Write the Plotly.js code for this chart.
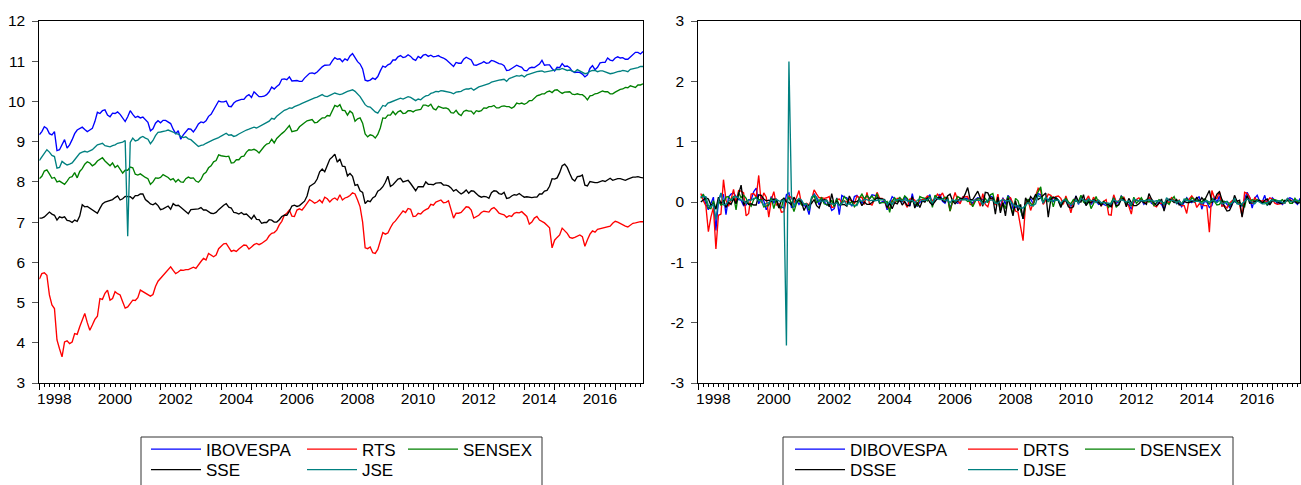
<!DOCTYPE html>
<html>
<head>
<meta charset="utf-8">
<script src="https://cdn.plot.ly/plotly-3.0.1.min.js"></script>
<style>html,body{margin:0;padding:0;background:#fff;}</style>
</head>
<body>
<div id="chart" style="width:1301px;height:485px;"></div>
<script>
// Monthly observations, 1998M01 .. 2017M12 (log index levels)
const startYear = 1998;
const IBOVESPA = [
 9.17, 9.25, 9.37, 9.33, 9.20, 9.17, 9.25, 8.78, 8.80, 8.93, 9.05, 8.84,
 8.92, 9.05, 9.20, 9.29, 9.33, 9.36, 9.30, 9.25, 9.29, 9.33, 9.50, 9.73,
 9.70, 9.77, 9.79, 9.66, 9.62, 9.71, 9.70, 9.74, 9.68, 9.60, 9.50, 9.62,
 9.77, 9.68, 9.60, 9.63, 9.59, 9.61, 9.55, 9.48, 9.27, 9.32, 9.46, 9.52,
 9.47, 9.53, 9.53, 9.48, 9.45, 9.31, 9.20, 9.27, 9.06, 9.17, 9.25, 9.32,
 9.31, 9.24, 9.33, 9.44, 9.49, 9.47, 9.52, 9.63, 9.68, 9.80, 9.91, 10.01,
 9.99, 9.99, 10.01, 9.88, 9.87, 9.96, 10.01, 10.04, 10.05, 10.05, 10.13, 10.17,
 10.10, 10.24, 10.19, 10.12, 10.12, 10.13, 10.17, 10.24, 10.36, 10.31, 10.37, 10.42,
 10.55, 10.56, 10.54, 10.61, 10.51, 10.51, 10.52, 10.50, 10.50, 10.58, 10.64, 10.70,
 10.71, 10.69, 10.73, 10.80, 10.86, 10.90, 10.90, 10.91, 11.01, 11.09, 11.05, 11.06,
 10.99, 11.06, 11.02, 11.13, 11.19, 11.08, 10.99, 10.93, 10.81, 10.53, 10.51, 10.53,
 10.58, 10.55, 10.62, 10.76, 10.88, 10.85, 10.91, 10.94, 11.03, 11.03, 11.11, 11.14,
 11.09, 11.11, 11.16, 11.12, 11.05, 11.02, 11.12, 11.08, 11.15, 11.17, 11.12, 11.15,
 11.11, 11.12, 11.14, 11.10, 11.08, 11.04, 10.98, 10.94, 10.87, 10.97, 10.95, 10.95,
 11.05, 11.10, 11.07, 11.03, 10.91, 10.90, 10.93, 10.95, 10.99, 10.95, 10.96, 11.02,
 11.00, 10.96, 10.94, 10.93, 10.89, 10.77, 10.78, 10.82, 10.87, 10.90, 10.87, 10.85,
 10.77, 10.76, 10.83, 10.85, 10.84, 10.88, 10.93, 11.02, 10.90, 10.91, 10.91, 10.82,
 10.76, 10.85, 10.84, 10.94, 10.87, 10.88, 10.84, 10.75, 10.72, 10.73, 10.72, 10.68,
 10.61, 10.66, 10.82, 10.89, 10.79, 10.85, 10.96, 10.97, 10.97, 11.08, 11.03, 11.01,
 11.08, 11.11, 11.08, 11.09, 11.05, 11.05, 11.10, 11.17, 11.22, 11.22, 11.18, 11.24
];
const RTS = [
 5.58, 5.72, 5.74, 5.68, 5.19, 4.94, 4.85, 4.07, 3.85, 3.65, 4.02, 4.05,
 3.98, 4.02, 4.23, 4.21, 4.40, 4.58, 4.73, 4.50, 4.31, 4.44, 4.58, 4.66,
 5.10, 5.08, 5.23, 5.31, 5.06, 5.10, 5.27, 5.22, 5.19, 5.02, 4.86, 4.89,
 4.99, 5.06, 5.05, 5.12, 5.31, 5.27, 5.23, 5.21, 5.16, 5.20, 5.40, 5.53,
 5.60, 5.67, 5.73, 5.80, 5.89, 5.80, 5.72, 5.76, 5.81, 5.80, 5.82, 5.82,
 5.86, 5.88, 5.85, 5.95, 6.02, 6.10, 6.06, 6.22, 6.19, 6.14, 6.18, 6.34,
 6.40, 6.46, 6.47, 6.38, 6.27, 6.30, 6.27, 6.33, 6.39, 6.43, 6.42, 6.33,
 6.38, 6.44, 6.47, 6.44, 6.47, 6.51, 6.56, 6.66, 6.72, 6.74, 6.80, 6.93,
 7.02, 7.17, 7.22, 7.30, 7.15, 7.14, 7.30, 7.33, 7.30, 7.38, 7.47, 7.56,
 7.52, 7.47, 7.50, 7.55, 7.48, 7.62, 7.58, 7.50, 7.57, 7.60, 7.55, 7.68,
 7.55, 7.60, 7.62, 7.66, 7.73, 7.70, 7.55, 7.38, 7.00, 6.36, 6.34, 6.38,
 6.24, 6.22, 6.32, 6.55, 6.74, 6.70, 6.73, 6.86, 6.97, 7.03, 7.12, 7.22,
 7.28, 7.24, 7.34, 7.32, 7.14, 7.15, 7.22, 7.20, 7.27, 7.31, 7.34, 7.44,
 7.42, 7.50, 7.52, 7.55, 7.48, 7.49, 7.53, 7.32, 7.10, 7.22, 7.22, 7.24,
 7.30, 7.38, 7.37, 7.30, 7.10, 7.13, 7.17, 7.24, 7.27, 7.26, 7.25, 7.33,
 7.36, 7.30, 7.22, 7.20, 7.18, 7.12, 7.16, 7.14, 7.22, 7.24, 7.23, 7.26,
 7.20, 7.14, 6.95, 7.00, 7.10, 7.14, 7.05, 7.02, 6.98, 6.92, 6.86, 6.36,
 6.55, 6.62, 6.68, 6.85, 6.78, 6.72, 6.62, 6.60, 6.62, 6.66, 6.68, 6.64,
 6.40, 6.56, 6.70, 6.78, 6.75, 6.82, 6.84, 6.85, 6.87, 6.89, 6.90, 6.97,
 7.02, 7.00, 6.96, 6.93, 6.90, 6.88, 6.93, 6.97, 6.98, 7.00, 7.01, 7.01
];
const SENSEX = [
 8.08, 8.14, 8.27, 8.30, 8.20, 8.09, 8.11, 8.00, 8.02, 7.97, 7.94, 8.02,
 8.11, 8.13, 8.23, 8.10, 8.26, 8.33, 8.44, 8.50, 8.47, 8.40, 8.44, 8.52,
 8.56, 8.60, 8.52, 8.45, 8.40, 8.47, 8.36, 8.41, 8.32, 8.22, 8.29, 8.29,
 8.37, 8.35, 8.19, 8.17, 8.20, 8.15, 8.11, 8.08, 7.94, 8.00, 8.10, 8.09,
 8.11, 8.18, 8.15, 8.11, 8.05, 8.08, 8.00, 8.06, 8.00, 7.99, 8.08, 8.12,
 8.09, 8.10, 8.02, 7.99, 8.06, 8.19, 8.24, 8.35, 8.40, 8.50, 8.53, 8.67,
 8.65, 8.64, 8.63, 8.64, 8.47, 8.48, 8.55, 8.55, 8.63, 8.64, 8.74, 8.80,
 8.79, 8.81, 8.78, 8.72, 8.81, 8.88, 8.94, 8.96, 9.06, 8.97, 9.08, 9.15,
 9.20, 9.25, 9.33, 9.40, 9.25, 9.27, 9.28, 9.37, 9.43, 9.47, 9.52, 9.53,
 9.55, 9.47, 9.48, 9.54, 9.59, 9.59, 9.65, 9.64, 9.76, 9.90, 9.87, 9.92,
 9.78, 9.77, 9.66, 9.76, 9.71, 9.51, 9.57, 9.59, 9.46, 9.19, 9.12, 9.17,
 9.15, 9.09, 9.18, 9.34, 9.59, 9.58, 9.66, 9.66, 9.75, 9.67, 9.74, 9.77,
 9.70, 9.71, 9.77, 9.77, 9.74, 9.78, 9.79, 9.80, 9.91, 9.91, 9.88, 9.93,
 9.82, 9.79, 9.88, 9.86, 9.83, 9.84, 9.81, 9.72, 9.71, 9.78, 9.69, 9.65,
 9.75, 9.78, 9.76, 9.76, 9.69, 9.77, 9.75, 9.77, 9.84, 9.83, 9.87, 9.87,
 9.90, 9.84, 9.84, 9.88, 9.89, 9.87, 9.87, 9.83, 9.87, 9.96, 9.94, 9.96,
 9.93, 9.96, 10.02, 10.02, 10.09, 10.14, 10.16, 10.19, 10.19, 10.24, 10.26, 10.22,
 10.28, 10.29, 10.24, 10.20, 10.23, 10.23, 10.24, 10.18, 10.17, 10.19, 10.17, 10.17,
 10.12, 10.04, 10.14, 10.15, 10.19, 10.20, 10.24, 10.26, 10.24, 10.24, 10.19, 10.19,
 10.23, 10.27, 10.30, 10.31, 10.35, 10.34, 10.39, 10.37, 10.35, 10.41, 10.41, 10.44
];
const SSE = [
 7.10, 7.10, 7.13, 7.20, 7.25, 7.20, 7.17, 7.05, 7.13, 7.11, 7.13, 7.04,
 7.03, 6.99, 7.05, 7.02, 7.15, 7.43, 7.38, 7.39, 7.35, 7.32, 7.27, 7.22,
 7.34, 7.45, 7.50, 7.52, 7.55, 7.56, 7.61, 7.65, 7.55, 7.58, 7.64, 7.64,
 7.63, 7.58, 7.66, 7.66, 7.70, 7.70, 7.56, 7.51, 7.45, 7.43, 7.47, 7.41,
 7.31, 7.33, 7.37, 7.40, 7.32, 7.46, 7.41, 7.42, 7.37, 7.32, 7.28, 7.21,
 7.31, 7.32, 7.32, 7.33, 7.36, 7.30, 7.30, 7.26, 7.22, 7.21, 7.24, 7.31,
 7.37, 7.42, 7.46, 7.37, 7.35, 7.24, 7.23, 7.20, 7.24, 7.19, 7.20, 7.14,
 7.08, 7.17, 7.07, 7.06, 6.97, 6.99, 6.99, 7.06, 7.05, 7.00, 7.00, 7.06,
 7.14, 7.17, 7.17, 7.27, 7.40, 7.42, 7.39, 7.41, 7.47, 7.52, 7.65, 7.89,
 7.93, 7.97, 8.07, 8.25, 8.32, 8.25, 8.41, 8.56, 8.62, 8.69, 8.49, 8.57,
 8.39, 8.38, 8.15, 8.21, 8.14, 7.91, 7.93, 7.78, 7.74, 7.46, 7.53, 7.51,
 7.60, 7.64, 7.77, 7.81, 7.88, 7.99, 8.14, 7.89, 7.93, 8.01, 8.07, 8.09,
 8.00, 8.02, 8.04, 7.96, 7.86, 7.78, 7.88, 7.88, 7.88, 8.00, 7.94, 7.94,
 7.93, 7.97, 7.98, 7.98, 7.92, 7.92, 7.90, 7.85, 7.77, 7.81, 7.75, 7.70,
 7.74, 7.80, 7.72, 7.78, 7.77, 7.71, 7.65, 7.62, 7.64, 7.63, 7.59, 7.73,
 7.78, 7.77, 7.71, 7.69, 7.74, 7.59, 7.60, 7.65, 7.68, 7.67, 7.71, 7.66,
 7.62, 7.63, 7.62, 7.61, 7.62, 7.62, 7.70, 7.70, 7.77, 7.79, 7.89, 8.08,
 8.07, 8.10, 8.23, 8.40, 8.44, 8.36, 8.21, 8.07, 8.02, 8.13, 8.14, 8.17,
 7.92, 7.90, 8.01, 7.99, 7.98, 7.98, 8.00, 8.03, 8.01, 8.04, 8.09, 8.04,
 8.06, 8.08, 8.08, 8.06, 8.04, 8.07, 8.09, 8.12, 8.12, 8.13, 8.11, 8.10
];
const JSE = [
 8.53, 8.62, 8.71, 8.80, 8.74, 8.66, 8.63, 8.34, 8.36, 8.51, 8.46, 8.42,
 8.44, 8.47, 8.55, 8.64, 8.71, 8.74, 8.76, 8.74, 8.77, 8.80, 8.86, 8.92,
 8.94, 8.96, 8.90, 8.88, 8.87, 8.90, 8.92, 8.96, 8.98, 8.99, 9.03, 6.65,
 8.98, 9.09, 9.02, 9.04, 9.10, 9.13, 9.09, 9.06, 8.95, 9.03, 9.15, 9.23,
 9.24, 9.25, 9.27, 9.29, 9.27, 9.24, 9.20, 9.19, 9.13, 9.10, 9.12, 9.07,
 9.05, 9.00, 8.94, 8.88, 8.91, 8.92, 8.96, 9.00, 9.02, 9.05, 9.07, 9.10,
 9.14, 9.18, 9.21, 9.16, 9.17, 9.13, 9.15, 9.19, 9.23, 9.25, 9.29, 9.31,
 9.33, 9.36, 9.34, 9.37, 9.42, 9.44, 9.47, 9.51, 9.58, 9.56, 9.63, 9.69,
 9.73, 9.78, 9.80, 9.84, 9.83, 9.87, 9.89, 9.92, 9.95, 9.98, 10.01, 10.05,
 10.07, 10.09, 10.11, 10.14, 10.17, 10.13, 10.12, 10.15, 10.18, 10.21, 10.19, 10.17,
 10.19, 10.23, 10.25, 10.27, 10.29, 10.25, 10.18, 10.12, 10.02, 9.92, 9.87, 9.86,
 9.80, 9.74, 9.71, 9.82, 9.90, 9.88, 9.96, 9.98, 10.00, 10.02, 10.05, 10.08,
 10.06, 10.09, 10.12, 10.10, 10.05, 10.02, 10.06, 10.04, 10.10, 10.14, 10.15, 10.20,
 10.22, 10.25, 10.24, 10.27, 10.26, 10.25, 10.24, 10.22, 10.19, 10.23, 10.24, 10.25,
 10.29, 10.31, 10.31, 10.33, 10.28, 10.33, 10.36, 10.38, 10.40, 10.42, 10.44, 10.48,
 10.50, 10.51, 10.53, 10.54, 10.55, 10.50, 10.57, 10.59, 10.62, 10.64, 10.63, 10.65,
 10.61, 10.66, 10.68, 10.70, 10.73, 10.74, 10.75, 10.76, 10.73, 10.74, 10.76, 10.76,
 10.78, 10.80, 10.79, 10.82, 10.79, 10.77, 10.78, 10.75, 10.73, 10.79, 10.76, 10.72,
 10.69, 10.70, 10.75, 10.77, 10.77, 10.74, 10.76, 10.76, 10.73, 10.70, 10.69, 10.70,
 10.73, 10.74, 10.75, 10.77, 10.76, 10.74, 10.80, 10.81, 10.82, 10.84, 10.87, 10.87
];

const levelNames = ['IBOVESPA', 'RTS', 'SENSEX', 'SSE', 'JSE'];
const diffNames = ['DIBOVESPA', 'DRTS', 'DSENSEX', 'DSSE', 'DJSE'];
const seriesColors = ['rgb(0,0,255)', 'rgb(255,0,0)', 'rgb(0,128,0)', 'rgb(0,0,0)', 'rgb(0,128,128)'];
const yearTicks = [1998,1999,2000,2001,2002,2003,2004,2005,2006,2007,2008,2009,2010,2011,2012,2013,2014,2015,2016,2017];
const yearLabels = ['1998','','2000','','2002','','2004','','2006','','2008','','2010','','2012','','2014','','2016',''];
const leftTicks = [3,4,5,6,7,8,9,10,11,12];
const leftTickText = ['3','4','5','6','7','8','9','10','11','12'];
const rightTicks = [-3,-2,-1,0,1,2,3];
const rightTickText = ['-3','-2','-1','0','1','2','3'];

const levels = [IBOVESPA, RTS, SENSEX, SSE, JSE];
const t = IBOVESPA.map((_, i) => startYear + i / 12);
const firstDiff = a => a.map((v, i) => i === 0 ? null : Math.round((v - a[i - 1]) * 10000) / 10000);

const FONT = 'Liberation Sans, Arial, sans-serif';
const tickFont = {family: FONT, size: 15.5, color: '#000'};
const W = 1300, plotTop = 21, plotBottom = 383, H = plotBottom - plotTop;
const px2x = p => p / W;
const px2y = p => (plotBottom - p) / H;

// legend grid: 3 columns x 2 rows per panel (EViews layout)
const colLeft = [146, 302, 403];
const colRight = [790, 963, 1080];
const rowTop = [431.5, 452];
const cellOf = [[0, 0], [1, 0], [2, 0], [0, 1], [1, 1]]; // [col,row] for each series

const traces = [];
const legends = {};
let legendCount = 0;
function addLegend(xpx, ypx) {
  legendCount += 1;
  const key = legendCount === 1 ? 'legend' : 'legend' + legendCount;
  legends[key] = {
    x: px2x(xpx), y: px2y(ypx), xref: 'paper', yref: 'paper',
    xanchor: 'left', yanchor: 'top', orientation: 'v',
    bgcolor: 'rgba(0,0,0,0)', borderwidth: 0, itemwidth: 50,
    tracegroupgap: 0, font: {family: FONT, size: 17, color: '#000'}
  };
  return key;
}
levels.forEach((s, k) => {
  const [c, r] = cellOf[k];
  traces.push({
    x: t, y: s, type: 'scatter', mode: 'lines', name: levelNames[k],
    line: {color: seriesColors[k], width: 1.35}, xaxis: 'x', yaxis: 'y',
    legend: addLegend(colLeft[c], rowTop[r]), hoverinfo: 'skip'
  });
});
levels.forEach((s, k) => {
  const [c, r] = cellOf[k];
  traces.push({
    x: t, y: firstDiff(s), type: 'scatter', mode: 'lines', name: diffNames[k],
    line: {color: seriesColors[k], width: 1.35}, xaxis: 'x2', yaxis: 'y2',
    legend: addLegend(colRight[c], rowTop[r]), hoverinfo: 'skip'
  });
});

function xAxis(d0, d1, anchor) {
  return {
    domain: [px2x(d0), px2x(d1)], anchor: anchor,
    range: [startYear, startYear + (IBOVESPA.length - 1) / 12],
    tickmode: 'array', tickvals: yearTicks, ticktext: yearLabels,
    ticks: 'outside', ticklen: 6, tickwidth: 1, tickcolor: '#000',
    ticklabelshift: 15, ticklabelstandoff: -5,
    showline: true, linecolor: '#000', linewidth: 1, mirror: true,
    showgrid: false, zeroline: false, tickfont: tickFont, automargin: false,
    minor: {ticks: 'outside', ticklen: 3, tickwidth: 1, tickcolor: '#000', tick0: 1998, dtick: 1 / 6, showgrid: false}
  };
}
function yAxis(range, vals, text, anchor) {
  return {
    domain: [0, 1], anchor: anchor, range: range,
    tickmode: 'array', tickvals: vals, ticktext: text,
    ticks: 'outside', ticklen: 6, tickwidth: 1, tickcolor: '#555',
    ticklabelstandoff: 4,
    showline: true, linecolor: '#000', linewidth: 1, mirror: true,
    showgrid: false, zeroline: false, tickfont: tickFont, automargin: false
  };
}

const layout = Object.assign({
  width: 1301, height: 485,
  margin: {l: 0, r: 1, t: plotTop, b: 485 - plotBottom, pad: 0, autoexpand: false},
  paper_bgcolor: '#fff', plot_bgcolor: '#fff',
  showlegend: true,
  font: {family: FONT, color: '#000'},
  xaxis: xAxis(39.3, 643, 'y'),
  yaxis: yAxis([3, 12], leftTicks, leftTickText, 'x'),
  xaxis2: xAxis(698.3, 1300, 'y2'),
  yaxis2: yAxis([-3, 3], rightTicks, rightTickText, 'x2'),
  shapes: [
    {type: 'rect', xref: 'paper', yref: 'paper', x0: px2x(141), x1: px2x(542), y0: px2y(437), y1: px2y(500), line: {color: '#333', width: 1}, fillcolor: 'rgba(0,0,0,0)'},
    {type: 'rect', xref: 'paper', yref: 'paper', x0: px2x(783), x1: px2x(1233), y0: px2y(437), y1: px2y(500), line: {color: '#333', width: 1}, fillcolor: 'rgba(0,0,0,0)'}
  ]
}, legends);

Plotly.newPlot('chart', traces, layout, {staticPlot: true, displayModeBar: false});
</script>
</body>
</html>
